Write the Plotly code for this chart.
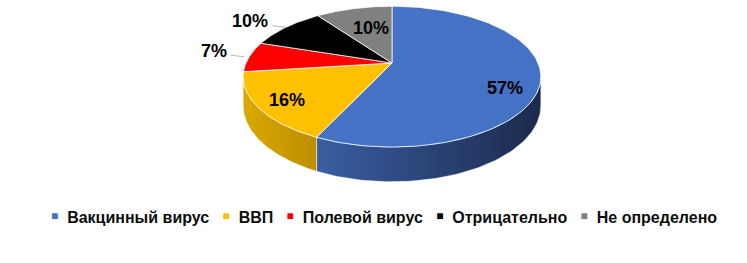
import numpy as np
import plotly.graph_objects as go

# ---- data ----
categories = ["Вакцинный вирус", "ВВП", "Полевой вирус", "Отрицательно", "Не определено"]
values = [57, 16, 7, 10, 10]
colors = ["#4472C4", "#FFC000", "#FF0000", "#000000", "#808080"]
side_colors = [("#3A5EA3", "#1B2A4C"), ("#DBA900", "#BC8E00"), ("#D00000", "#A00000"),
               ("#151515", "#000000"), ("#6E6E6E", "#575757")]

# ---- geometry / style (not data) ----
W, H = 747, 263
CX, CY, RX, RY, K, D = 392.0, 63.0, 146.0, 67.7, 0.194, 28.0
label_style = {0: ("in", 0.766, 13.3), 1: ("in", 0.804, 1.8), 2: ("out", 0, 0),
               3: ("out", 0, 0), 4: ("in", 0.509, -5.0)}


def proj(theta_deg, r=1.0, z=0.0):
    t = np.radians(theta_deg)
    u = r * np.sin(t)
    v = -r * np.cos(t)
    s = 1.0 / (1.0 - K * v)
    return CX + RX * u * s, CY + RY * v * s + z * s


total = float(sum(values))
bounds = np.concatenate([[0.0], np.cumsum(values) / total * 360.0])
sil = np.degrees(np.arccos(-K))          # silhouette angles: sil .. 360-sil

fig = go.Figure()

# side walls (visible front part only)
for i in range(len(values)):
    a, b = max(bounds[i], sil), min(bounds[i + 1], 360.0 - sil)
    if b <= a:
        continue
    th = np.linspace(a, b, 80)
    xt, yt = proj(th)
    xb, yb = proj(th, z=D)
    xs = np.concatenate([xt, xb[::-1], xt[:1]])
    ys = np.concatenate([yt, yb[::-1], yt[:1]])
    fig.add_trace(go.Scatter(
        x=xs, y=ys, mode="lines", fill="toself",
        line=dict(color="rgba(255,255,255,0.8)", width=0.6),
        fillgradient=dict(type="horizontal",
                          colorscale=[[0, side_colors[i][0]], [1, side_colors[i][1]]],
                          start=float(xs.min()), stop=float(xs.max())),
        hoverinfo="skip", showlegend=False))

# top faces
for i in range(len(values)):
    th = np.linspace(bounds[i], bounds[i + 1], 120)
    xa, ya = proj(th)
    xs = np.concatenate([[CX], xa, [CX]])
    ys = np.concatenate([[CY], ya, [CY]])
    fig.add_trace(go.Scatter(
        x=xs, y=ys, mode="lines", fill="toself", fillcolor=colors[i],
        line=dict(color="white", width=0.75),
        hoverinfo="skip", showlegend=False))

# labels
annotations = []
lab_font = dict(family="Liberation Sans, Arial, sans-serif", size=18, color="#000000",
                weight="bold")
for i, v in enumerate(values):
    txt = f"{round(v / total * 100)}%"
    mid = (bounds[i] + bounds[i + 1]) / 2
    kind, r, dy = label_style[i]
    if kind == "in":
        x, y = proj(mid, r)
        annotations.append(dict(x=x, y=y + dy, xref="x", yref="y", text=txt, showarrow=False,
                                font=lab_font, xanchor="center", yanchor="middle"))
    else:
        x0, y0 = proj(mid, 1.0)
        if i == 2:
            x0 -= 5
        x1, y1 = x0 - 13.5, y0 - 1.5
        fig.add_trace(go.Scatter(x=[x0, x1], y=[y0, y1], mode="lines",
                                 line=dict(color="#A6A6A6", width=0.8),
                                 hoverinfo="skip", showlegend=False))
        annotations.append(dict(x=x1 - 2, y=y1 - 4.5, xref="x", yref="y", text=txt,
                                showarrow=False, font=lab_font,
                                xanchor="right", yanchor="middle"))

# legend (built from categories and colors)
nb = "\u00a0"
items = [f"<span style='color:{c};font-size:12px;baseline-shift:3px'>■</span>{nb}{nb}{name}"
         for name, c in zip(categories, colors)]
legend_text = (nb * 3).join(items)
annotations.append(dict(x=384, y=217, xref="x", yref="y", text=legend_text, showarrow=False,
                        font=dict(family="Liberation Sans, Arial, sans-serif", size=16,
                                  color="#0D0D0D", weight="bold"),
                        xanchor="center", yanchor="middle"))

fig.update_layout(
    width=W, height=H, margin=dict(l=0, r=0, t=0, b=0),
    paper_bgcolor="white", plot_bgcolor="white",
    xaxis=dict(range=[0, W], visible=False, fixedrange=True),
    yaxis=dict(range=[H, 0], visible=False, fixedrange=True),
    annotations=annotations, showlegend=False,
)

fig.write_html("out.html")
